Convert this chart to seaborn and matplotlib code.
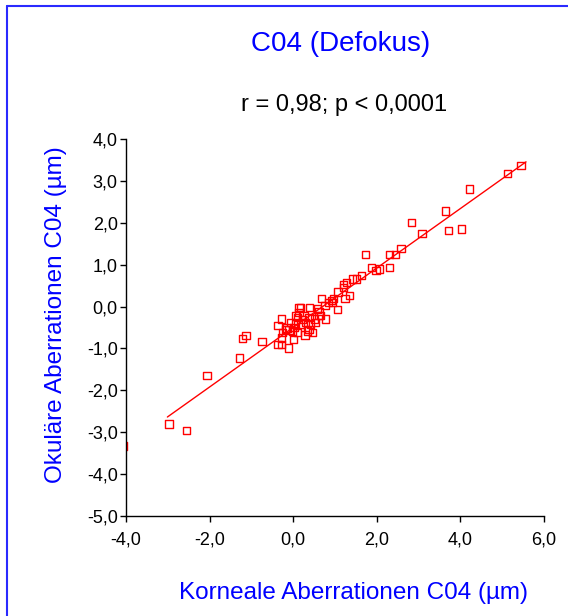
import matplotlib
matplotlib.use("Agg")
import matplotlib.pyplot as plt
from matplotlib.lines import Line2D
import numpy as np
import pandas as pd
import seaborn as sns

# ---- data ----
korneal_x = [5.45, 5.13, 4.21, 3.65, 2.83, 3.72, 4.03, 3.08, 2.58, 2.44,
             2.30, 1.73, 2.30, 1.88, 1.98, 2.06, 1.63, 1.52, 1.42, 1.27,
             1.21, 1.21, 1.07, 1.34, 1.24, 0.96, 0.92, 0.84, 0.76, 0.68,
             1.06, 0.78, 0.62, 0.58, 0.39, 0.18, 0.14, 0.10, 0.26, 0.38,
             0.51, 0.54, 0.66, 0.30, 0.18, 0.06, -0.06, -0.28, -0.36, -0.19,
             -0.10, -0.02, 0.10, 0.34, 0.46, 0.38, 0.28, 0.00, -0.26, -0.28,
             -0.36, -0.28, -0.11, -0.75, -1.13, -1.21, -1.28, -2.06, -2.55, -2.97,
             0.14, 0.06, 0.22, 0.42, 0.02, -0.15, 0.94, 0.62, -4.07]
okular_y = [3.36, 3.17, 2.81, 2.28, 2.01, 1.81, 1.85, 1.74, 1.39, 1.24,
            1.24, 1.24, 0.94, 0.94, 0.86, 0.90, 0.74, 0.66, 0.66, 0.58,
            0.52, 0.45, 0.35, 0.27, 0.20, 0.20, 0.14, 0.10, 0.02, 0.20,
            -0.07, -0.30, -0.12, -0.06, -0.03, -0.03, -0.14, -0.26, -0.22, -0.26,
            -0.30, -0.38, -0.22, -0.38, -0.42, -0.42, -0.38, -0.30, -0.46, -0.54,
            -0.56, -0.58, -0.62, -0.58, -0.62, -0.54, -0.68, -0.78, -0.62, -0.75,
            -0.91, -0.91, -0.99, -0.84, -0.69, -0.76, -1.23, -1.65, -2.96, -2.80,
            -0.02, -0.22, -0.31, -0.42, -0.50, -0.51, 0.10, -0.22, -3.33]

fit_slope = 0.71
fit_intercept = -0.50
fit_x = [-3.01, 5.57]

x_ticks = [-4, -2, 0, 2, 4, 6]
x_ticklabels = ["-4,0", "-2,0", "0,0", "2,0", "4,0", "6,0"]
y_ticks = [4, 3, 2, 1, 0, -1, -2, -3, -4, -5]
y_ticklabels = ["4,0", "3,0", "2,0", "1,0", "0,0", "-1,0", "-2,0", "-3,0", "-4,0", "-5,0"]

title_text = "C04 (Defokus)"
stat_text = "r = 0,98; p < 0,0001"
xlabel_text = "Korneale Aberrationen C04 (µm)"
ylabel_text = "Okuläre Aberrationen C04 (µm)"

# ---- style ----
sns.set_style("ticks")
plt.rcParams["font.family"] = ["Liberation Sans", "DejaVu Sans"]

W, H = 568, 616
fig = plt.figure(figsize=(W / 100, H / 100), dpi=100)
ax = fig.add_axes([126 / W, 1 - 516 / H, 418 / W, 377 / H])

df = pd.DataFrame({"x": korneal_x, "y": okular_y})
sns.scatterplot(data=df, x="x", y="y", ax=ax, marker="s", s=28,
                facecolor="none", edgecolor="#ff0000", linewidth=1.0)

fit_y = [fit_intercept + fit_slope * v for v in fit_x]
sns.lineplot(x=fit_x, y=fit_y, ax=ax, color="#ff0000", linewidth=1.0)

ax.set_xlim(-4, 6)
ax.set_ylim(-5, 4)
ax.set_xticks(x_ticks)
ax.set_xticklabels(x_ticklabels)
ax.set_yticks(y_ticks)
ax.set_yticklabels(y_ticklabels)
ax.set_xlabel("")
ax.set_ylabel("")
ax.tick_params(axis="both", labelsize=13, colors="black", length=4, width=1.0)
ax.tick_params(axis="x", pad=7)
ax.tick_params(axis="y", pad=2)
sns.despine(ax=ax)
for sp in ["left", "bottom"]:
    ax.spines[sp].set_color("black")
    ax.spines[sp].set_linewidth(1.0)

# ---- texts ----
def fx(px):
    return px / W

def fy(py):
    return 1 - py / H

fig.text(fx(341), fy(44), title_text, color="#0000ff", fontsize=20, ha="center", va="center")
fig.text(fx(344), fy(105), stat_text, color="black", fontsize=17, ha="center", va="center")
fig.text(fx(354), fy(593), xlabel_text, color="#0000ff", fontsize=17.5, ha="center", va="center")
fig.text(fx(56), fy(315), ylabel_text, color="#0000ff", fontsize=17.5, ha="center", va="center",
         rotation=90)

# blue frame (top and left edges visible)
fig.add_artist(Line2D([fx(7), fx(7)], [fy(6), 0], transform=fig.transFigure,
                      color="#2a2aff", linewidth=1.5))
fig.add_artist(Line2D([fx(7), 1], [fy(6), fy(6)], transform=fig.transFigure,
                      color="#2a2aff", linewidth=1.5))

fig.savefig("out.png", dpi=100)
